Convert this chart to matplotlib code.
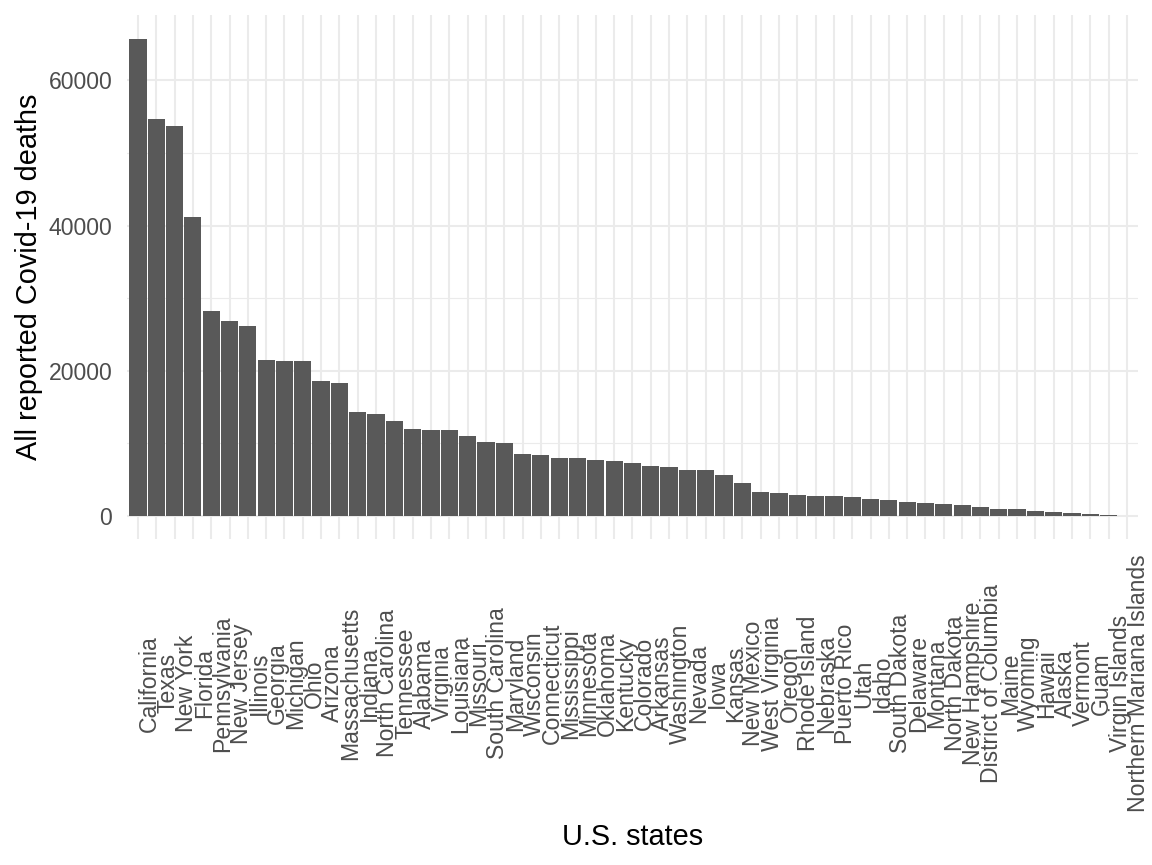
import matplotlib.pyplot as plt
from matplotlib.ticker import FixedLocator

plt.rcParams['font.family'] = ['Liberation Sans', 'DejaVu Sans']

# Data
states = ['California', 'Texas', 'New York', 'Florida', 'Pennsylvania', 'New Jersey',
          'Illinois', 'Georgia', 'Michigan', 'Ohio', 'Arizona', 'Massachusetts',
          'Indiana', 'North Carolina', 'Tennessee', 'Alabama', 'Virginia', 'Louisiana',
          'Missouri', 'South Carolina', 'Maryland', 'Wisconsin', 'Connecticut',
          'Mississippi', 'Minnesota', 'Oklahoma', 'Kentucky', 'Colorado', 'Arkansas',
          'Washington', 'Nevada', 'Iowa', 'Kansas', 'New Mexico', 'West Virginia',
          'Oregon', 'Rhode Island', 'Nebraska', 'Puerto Rico', 'Utah', 'Idaho',
          'South Dakota', 'Delaware', 'Montana', 'North Dakota', 'New Hampshire',
          'District of Columbia', 'Maine', 'Wyoming', 'Hawaii', 'Alaska', 'Vermont',
          'Guam', 'Virgin Islands', 'Northern Mariana Islands']
deaths = [65700, 54700, 53700, 41200, 28200, 26900,
          26200, 21450, 21400, 21300, 18550, 18270,
          14300, 14000, 13050, 11950, 11830, 11800,
          11000, 10170, 10030, 8520, 8380,
          7980, 7960, 7690, 7560, 7280, 6870,
          6730, 6330, 6310, 5630, 4530, 3300,
          3160, 2890, 2760, 2740, 2610, 2340,
          2200, 1920, 1790, 1650, 1510,
          1240, 970, 950, 690, 550, 410,
          270, 130, 60]
y_ticks = [0, 20000, 40000, 60000]
y_minor = [10000, 30000, 50000]

fig = plt.figure(figsize=(11.52, 8.65), dpi=100)
ax = fig.add_axes([0.1102, 0.3769, 0.8776, 0.6058])

x = list(range(len(states)))
ax.bar(x, deaths, width=0.94, color='#595959', zorder=2)

# theme_minimal look
for s in ax.spines.values():
    s.set_visible(False)
ax.set_axisbelow(True)
ax.set_xlim(-0.6, len(states) - 0.4)
top = max(deaths) * 1.05
ax.set_ylim(-max(deaths) * 0.048, top)

ax.set_yticks(y_ticks)
ax.set_yticklabels([str(v) for v in y_ticks])
ax.yaxis.set_minor_locator(FixedLocator(y_minor))
ax.set_xticks(x)
ax.set_xticklabels(states, rotation=90, ha='left', va='center')

ax.grid(which='major', color='#EBEBEB', linewidth=1.5)
ax.grid(which='minor', axis='y', color='#EBEBEB', linewidth=0.8)

ax.tick_params(axis='both', which='both', length=0, colors='#4D4D4D', labelsize=16.6)
ax.tick_params(axis='x', pad=104)
ax.tick_params(axis='y', pad=10.5)

ax.set_xlabel('U.S. states', fontsize=20.8, va='baseline')
ax.xaxis.set_label_coords(0.5, -0.584)
ax.set_ylabel('All reported Covid-19 deaths', fontsize=20.8, va='baseline')
ax.yaxis.set_label_coords(-0.089, 0.5)

fig.savefig('out.png', dpi=100)
